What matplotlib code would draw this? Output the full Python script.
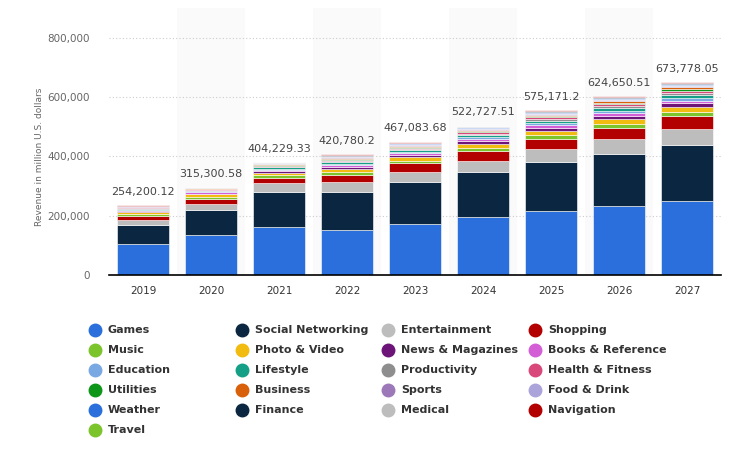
import matplotlib
matplotlib.use("Agg")
import matplotlib.pyplot as plt
from matplotlib.lines import Line2D
import numpy as np

# --- Data (million U.S. dollars) ---
years = ["2019", "2020", "2021", "2022", "2023", "2024", "2025", "2026", "2027"]
totals = [254200.12, 315300.58, 404229.33, 420780.2, 467083.68,
          522727.51, 575171.2, 624650.51, 673778.05]

categories = ["Games", "Social Networking", "Entertainment", "Shopping",
              "Music", "Photo & Video", "News & Magazines", "Books & Reference",
              "Education", "Lifestyle", "Productivity", "Health & Fitness",
              "Utilities", "Business", "Sports", "Food & Drink",
              "Weather", "Finance", "Medical", "Navigation", "Travel"]

colors = ["#2a6fdb", "#0b2640", "#bdbdbd", "#b30000",
          "#7cc42b", "#f2bb10", "#6c1478", "#d35ed6",
          "#7aa8e3", "#149f86", "#8e8e8e", "#d9487a",
          "#0e9618", "#d9600a", "#9c78b8", "#aaa4da",
          "#2a6fdb", "#0b2640", "#bdbdbd", "#b30000", "#7cc42b"]

games         = [104000, 134000, 161000, 153000, 171000, 195000, 215000, 233000, 250000]
social        = [65000, 86000, 120000, 128000, 142000, 154000, 165000, 174000, 188000]
entertainment = [18000, 21000, 29000, 34000, 36000, 37000, 44000, 51000, 54000]
shopping      = [12000, 17000, 19000, 24000, 28000, 34000, 36000, 39000, 46000]
music         = [7000, 6000, 7000, 8000, 9000, 10000, 12000, 14000, 13000]
photo_video   = [6000, 8000, 9000, 11000, 12000, 13000, 14000, 15000, 16000]
news          = [3000, 3000, 5000, 6000, 6000, 9000, 11000, 11000, 12000]
books         = [3000, 4000, 5000, 7000, 7000, 7000, 8000, 9000, 10000]
education     = [3000, 3000, 4000, 5000, 5000, 6000, 7000, 8000, 9000]
lifestyle     = [3000, 3000, 4000, 5000, 6000, 7000, 8000, 9000, 9000]
productivity  = [2000, 2000, 3000, 4000, 4000, 5000, 6000, 7000, 8000]
health        = [2000, 2000, 3000, 4000, 4000, 5000, 6000, 7000, 7000]
utilities     = [1500, 1500, 2000, 3000, 3000, 4000, 4000, 5000, 6000]
business      = [1500, 1500, 2000, 3000, 3000, 4000, 4000, 5000, 5000]
sports        = [1000, 1000, 2000, 3000, 3000, 3000, 4000, 4000, 4000]
food_drink    = [1000, 1000, 2000, 3000, 3000, 3000, 4000, 4000, 4000]
weather       = [500, 500, 1000, 2000, 2000, 2000, 3000, 3000, 3000]
finance       = [500, 500, 1000, 2000, 2000, 2000, 2000, 2000, 3000]
medical       = [500, 500, 1000, 1000, 1000, 2000, 2000, 2000, 2000]
navigation    = [500, 500, 500, 1000, 1000, 1000, 1000, 1000, 1000]
travel        = [500, 500, 500, 1000, 2000, 1000, 1000, 1000, 2000]

series = [games, social, entertainment, shopping, music, photo_video, news, books,
          education, lifestyle, productivity, health, utilities, business, sports,
          food_drink, weather, finance, medical, navigation, travel]

yticks = [0, 200000, 400000, 600000, 800000]

# --- Figure ---
W, H = 737, 461
fig = plt.figure(figsize=(W / 100, H / 100), dpi=100)
ax_top_px, ax_bot_px = 8, 275
ax_left_px, ax_right_px = 109, 721
ax = fig.add_axes([ax_left_px / W, 1 - ax_bot_px / H,
                   (ax_right_px - ax_left_px) / W, (ax_bot_px - ax_top_px) / H])

x = np.arange(len(years))
# alternate column shading
for i in range(1, len(years), 2):
    ax.axvspan(i - 0.5, i + 0.5, color="#fafafa", zorder=0, lw=0)

bottom = np.zeros(len(years))
for vals, col in zip(series, colors):
    vals = np.array(vals, dtype=float)
    ax.bar(x, vals, bottom=bottom, width=0.76, color=col,
           edgecolor="white", linewidth=0.4, zorder=3)
    bottom += vals

for xi, top, tot in zip(x, bottom, totals):
    label = f"{tot:,.2f}".rstrip("0").rstrip(".")
    ax.annotate(label, (xi, top), xytext=(0, 6), textcoords="offset points",
                ha="center", va="bottom", fontsize=8, color="#444444", zorder=4)

# y range: 800k sits at pixel 38
px_per_unit = (ax_bot_px - 38) / 800000
ax.set_ylim(0, (ax_bot_px - ax_top_px) / px_per_unit)
ax.set_xlim(-0.5, len(years) - 0.5)

ax.set_yticks(yticks)
ax.set_yticklabels([f"{v:,}" for v in yticks], fontsize=7.5, color="#666666")
ax.set_xticks(x)
ax.set_xticklabels(years, fontsize=7.5, color="#333333")
ax.tick_params(axis="y", length=0, pad=14)
ax.tick_params(axis="x", length=0, pad=8)
ax.grid(axis="y", linestyle=(0, (1, 2)), color="#cccccc", linewidth=0.8, zorder=1)
for s in ["top", "right", "left"]:
    ax.spines[s].set_visible(False)
ax.spines["bottom"].set_color("#000000")
ax.spines["bottom"].set_linewidth(1.2)
ax.spines["bottom"].set_zorder(5)
ax.set_facecolor("white")

fig.text(40 / W, 1 - 157 / H, "Revenue in million U.S. dollars", rotation=90,
         ha="center", va="center", fontsize=6.5, color="#666666")

# --- Legend (row-major, 4 columns) ---
for i, (name, col) in enumerate(zip(categories, colors)):
    row, c = divmod(i, 4)
    mx = 95 + c * 146.7
    my = 330 + row * 20
    fig.add_artist(Line2D([mx / W], [1 - my / H], marker="o", markersize=9,
                          color=col, linestyle="none", transform=fig.transFigure))
    fig.text((mx + 13) / W, 1 - my / H, name, ha="left", va="center",
             fontsize=8, fontweight="semibold", color="#333333")

fig.savefig("out.png", dpi=100)
